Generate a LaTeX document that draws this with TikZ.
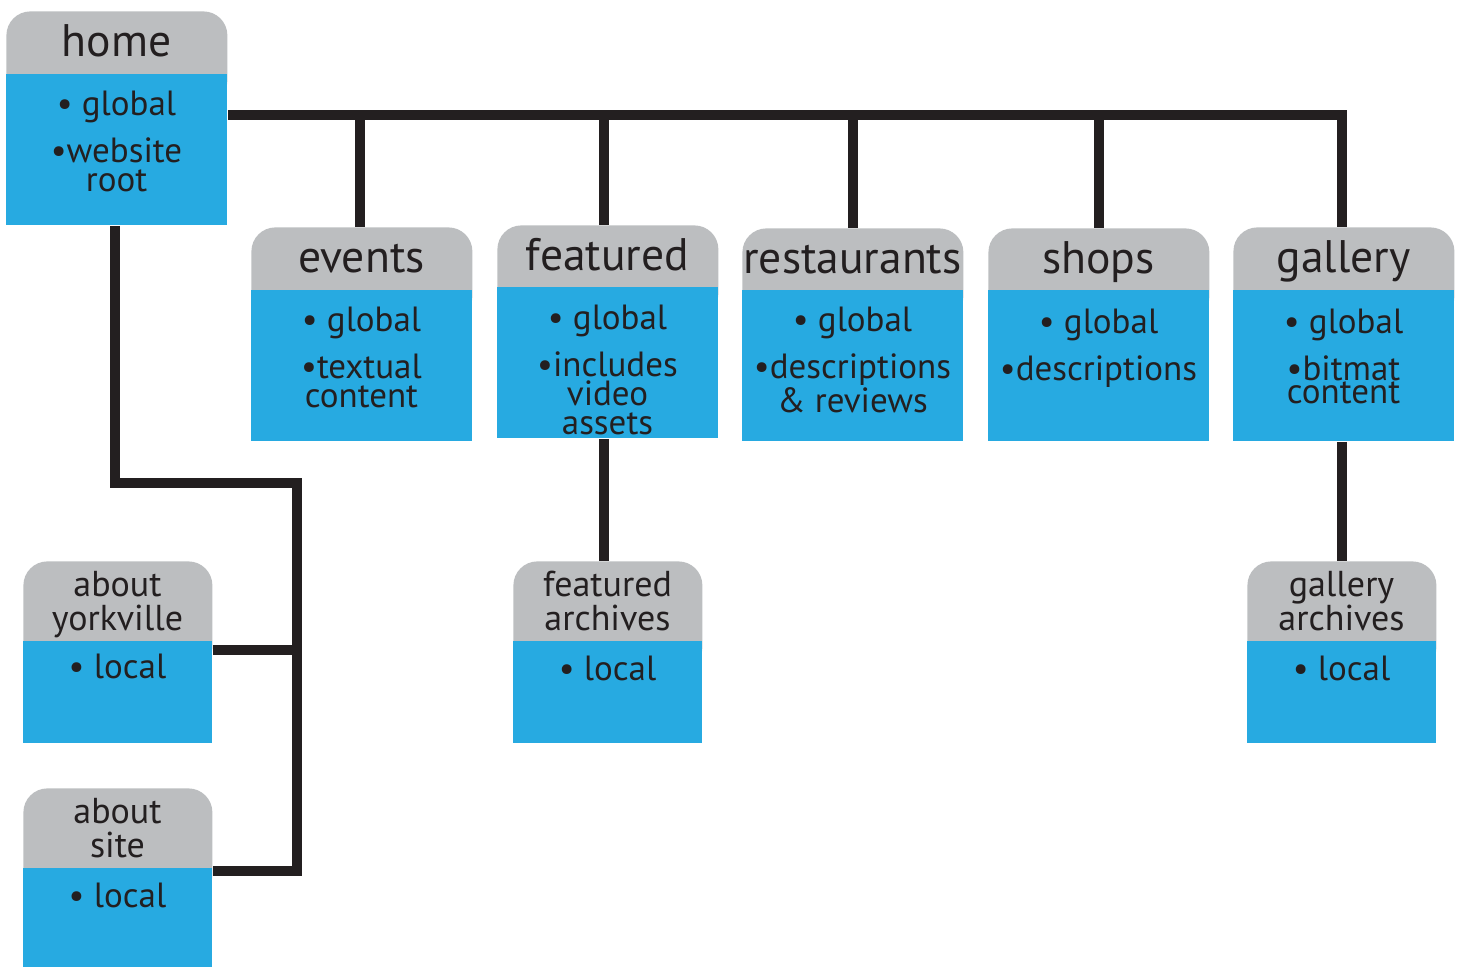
\documentclass[tikz,border=0pt]{standalone}
\usepackage{fontspec}
\setmainfont{PT Sans}
\usetikzlibrary{calc}
\definecolor{hdrgray}{RGB}{188,190,192}
\definecolor{boxblue}{RGB}{39,170,225}
\definecolor{ink}{RGB}{35,31,32}
\tikzset{
  hdr/.style={fill=hdrgray, rounded corners=12pt, inner sep=0pt, minimum width=#1},
  bodybox/.style={fill=boxblue, inner sep=0pt, minimum width=#1},
  bigtitle/.style={text=ink, inner sep=0pt, align=center, anchor=north, font=\fontsize{22.8}{17}\selectfont},
  smalltitle/.style={text=ink, inner sep=0pt, align=center, anchor=north, font=\fontsize{18}{17}\selectfont},
  bodytxt/.style={text=ink, inner sep=0pt, align=center, anchor=north, font=\fontsize{17.5}{14.5}\selectfont},
  conn/.style={draw=ink, line width=5pt, line join=miter},
}
\newcommand\bs{\rule{0pt}{14pt}}
\newcommand\ts{\rule{0pt}{17pt}}
\newcommand\tss{\rule{0pt}{13pt}}
\begin{document}
\begin{tikzpicture}[x=0.5pt, y=-0.5pt]
\useasboundingbox (0,0) rectangle (1462,967);
% big boxes
\node[hdr=110.5pt, minimum height=46.5pt, anchor=north west] (home-h) at (6,11) {};
\node[bodybox=110.5pt, minimum height=75.5pt, anchor=north west] (home) at (6,74) {};
\node[bigtitle] (home-t) at (116.5,22) {\ts home};
\node[bodytxt] (home-b) at (116.5,87) {\bs• global\\[6.5pt]•website\\root};

\node[hdr=110.5pt, minimum height=46.5pt, anchor=north west] (events-h) at (251,227) {};
\node[bodybox=110.5pt, minimum height=75.5pt, anchor=north west] (events) at (251,290) {};
\node[bigtitle] (events-t) at (361.5,238) {\ts events};
\node[bodytxt] (events-b) at (361.5,303) {\bs• global\\[6.5pt]•textual\\content};

\node[hdr=110.5pt, minimum height=46pt, anchor=north west] (featured-h) at (497,225) {};
\node[bodybox=110.5pt, minimum height=75.5pt, anchor=north west] (featured) at (497,287) {};
\node[bigtitle] (featured-t) at (607.5,236) {\ts featured};
\node[bodytxt] (featured-b) at (607.5,301) {\bs• global\\[6.5pt]•includes\\video\\assets};

\node[hdr=110.5pt, minimum height=46pt, anchor=north west] (restaurants-h) at (742,228) {};
\node[bodybox=110.5pt, minimum height=75.5pt, anchor=north west] (restaurants) at (742,290) {};
\node[bigtitle] (restaurants-t) at (852.5,239) {\ts restaurants};
\node[bodytxt] (restaurants-b) at (852.5,303) {\bs• global\\[6.5pt]•descriptions\\\& reviews};

\node[hdr=110.5pt, minimum height=46pt, anchor=north west] (shops-h) at (988,228) {};
\node[bodybox=110.5pt, minimum height=75.5pt, anchor=north west] (shops) at (988,290) {};
\node[bigtitle] (shops-t) at (1098.5,239) {\ts shops};
\node[bodytxt] (shops-b) at (1098.5,305) {\bs• global\\[6.5pt]•descriptions};

\node[hdr=110.5pt, minimum height=46.5pt, anchor=north west] (gallery-h) at (1233,227) {};
\node[bodybox=110.5pt, minimum height=75.5pt, anchor=north west] (gallery) at (1233,290) {};
\node[bigtitle] (gallery-t) at (1343.5,238) {\ts gallery};
\node[bodytxt] (gallery-b) at (1343.5,305) {\bs• global\\[6.5pt]•bitmat\\[-3pt]content};

% small boxes
\node[hdr=94.5pt, minimum height=55pt, anchor=north west] (yorkville-h) at (23,561) {};
\node[bodybox=94.5pt, minimum height=51pt, anchor=north west] (yorkville) at (23,641) {};
\node[smalltitle] (yorkville-t) at (117.5,570) {\tss about\\yorkville};
\node[bodytxt] (yorkville-b) at (117.5,650) {\bs• local};

\node[hdr=94.5pt, minimum height=55pt, anchor=north west] (site-h) at (23,788) {};
\node[bodybox=94.5pt, minimum height=49.5pt, anchor=north west] (site) at (23,868) {};
\node[smalltitle] (site-t) at (117.5,797) {\tss about\\site};
\node[bodytxt] (site-b) at (117.5,879) {\bs• local};

\node[hdr=94.5pt, minimum height=55pt, anchor=north west] (farch-h) at (513,561) {};
\node[bodybox=94.5pt, minimum height=51pt, anchor=north west] (farch) at (513,641) {};
\node[smalltitle] (farch-t) at (607.5,570) {\tss featured\\archives};
\node[bodytxt] (farch-b) at (607.5,652) {\bs• local};

\node[hdr=94.5pt, minimum height=55pt, anchor=north west] (garch-h) at (1247,561) {};
\node[bodybox=94.5pt, minimum height=51pt, anchor=north west] (garch) at (1247,641) {};
\node[smalltitle] (garch-t) at (1341.5,570) {\tss gallery\\archives};
\node[bodytxt] (garch-b) at (1341.5,652) {\bs• local};

% connectors
\coordinate (bar) at ($(home.north east)+(0,41)$);
\draw[conn] (bar) -| ([xshift=-0.75pt]gallery-h.north);
\draw[conn] ([xshift=-0.75pt]events-h.north) -- ([xshift=-0.75pt]events-h.north |- bar);
\draw[conn] ([xshift=-2pt]featured-h.north) -- ([xshift=-2pt]featured-h.north |- bar);
\draw[conn] (restaurants-h.north) -- (restaurants-h.north |- bar);
\draw[conn] (shops-h.north) -- (shops-h.north |- bar);

\coordinate (trunk) at (297,483);
\coordinate (ykb) at ($(yorkville.north east)+(0,9)$);
\coordinate (stb) at ($(site.north east)+(0,3)$);
\draw[conn] ([xshift=-0.75pt]home.south) |- (trunk) |- (stb);
\draw[conn] (ykb) -- (trunk |- ykb);

\draw[conn] ([xshift=-2pt]featured.south) -- ([xshift=-2pt]featured.south |- farch-h.north);
\draw[conn] ([xshift=-0.75pt]gallery.south) -- ([xshift=-0.75pt]gallery.south |- garch-h.north);
\end{tikzpicture}
\end{document}
